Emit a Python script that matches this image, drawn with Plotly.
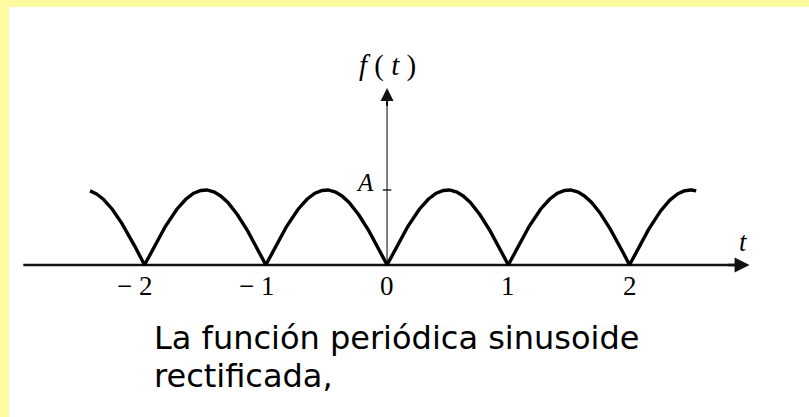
import numpy as np
import plotly.graph_objects as go

# Données du graphique
tick_values = [-2, -1, 0, 1, 2]
tick_labels = ["\u2212 2", "\u2212 1", "0", "1", "2"]
amplitude = 1.0          # A
period = 1.0             # zéros en t = ..., -1, 0, 1, ...
t_start, t_end = -2.45, 2.55
caption_lines = ["La función periódica sinusoide", "rectificada,"]

# Sinusoïde redressée : f(t) = A |sin(pi t / T)|
t = np.linspace(t_start, t_end, 1001)
f = amplitude * np.abs(np.sin(np.pi * t / period))

# Échelle : 121.25 px par unité en t, 75 px par A
x_range = [-3.118, 3.480]
y_range = [-2.027, 3.44]

fig = go.Figure()

# Axe horizontal
fig.add_trace(go.Scatter(x=[-3.0, 2.9], y=[0, 0], mode="lines",
                         line=dict(color="#111111", width=2.5),
                         hoverinfo="skip", showlegend=False))
# Axe vertical
fig.add_trace(go.Scatter(x=[0, 0], y=[0, 2.25], mode="lines",
                         line=dict(color="#555555", width=1.5),
                         hoverinfo="skip", showlegend=False))
# Repère A
fig.add_trace(go.Scatter(x=[-0.035, 0.035], y=[amplitude, amplitude], mode="lines",
                         line=dict(color="#222222", width=1.5),
                         hoverinfo="skip", showlegend=False))
# Courbe
fig.add_trace(go.Scatter(x=t, y=f, mode="lines",
                         line=dict(color="black", width=3.4),
                         hoverinfo="skip", showlegend=False))

annotations = []
# Flèches
annotations.append(dict(x=2.99, y=0, ax=2.8, ay=0, xref="x", yref="y", axref="x", ayref="y",
                        showarrow=True, arrowhead=2, arrowsize=1.2, arrowwidth=2.5,
                        arrowcolor="#111111", text=""))
annotations.append(dict(x=0, y=2.36, ax=0, ay=2.1, xref="x", yref="y", axref="x", ayref="y",
                        showarrow=True, arrowhead=2, arrowsize=1.3, arrowwidth=2,
                        arrowcolor="#111111", text=""))

# Étiquettes des graduations
tick_font = dict(family="Liberation Serif", size=27, color="black")
for v, lab in zip(tick_values, tick_labels):
    if v < 0:
        annotations.append(dict(x=v + 0.08, y=-0.28, xref="x", yref="y", text=lab,
                                showarrow=False, xanchor="right", font=tick_font))
    else:
        annotations.append(dict(x=v, y=-0.28, xref="x", yref="y", text=lab,
                                showarrow=False, xanchor="center", font=tick_font))

# Libellés des axes
annotations.append(dict(x=0, y=2.66, xref="x", yref="y", text="<i>f</i> ( <i>t</i> )",
                        showarrow=False, font=dict(family="Liberation Serif", size=29, color="black")))
annotations.append(dict(x=2.94, y=0.3, xref="x", yref="y", text="<i>t</i>",
                        showarrow=False, font=dict(family="Liberation Serif", size=27, color="black")))
annotations.append(dict(x=-0.18, y=1.1, xref="x", yref="y", text="<i>A</i>",
                        showarrow=False, font=dict(family="Liberation Serif", size=25, color="black")))

# Légende du graphique
for i, line in enumerate(caption_lines):
    annotations.append(dict(x=-1.94, y=-0.97 - 0.507 * i, xref="x", yref="y", text=line,
                            showarrow=False, xanchor="left",
                            font=dict(family="DejaVu Sans", size=32, color="black")))

fig.update_layout(
    width=809, height=417,
    margin=dict(l=9, r=0, t=7, b=0),
    paper_bgcolor="#FDFBA0",
    plot_bgcolor="white",
    xaxis=dict(range=x_range, visible=False, fixedrange=True),
    yaxis=dict(range=y_range, visible=False, fixedrange=True),
    annotations=annotations,
    showlegend=False,
)

fig.write_html(
    "out.html",
    config={"displayModeBar": False},
    post_script="document.body.style.margin='0';document.body.style.overflow='hidden';",
)
